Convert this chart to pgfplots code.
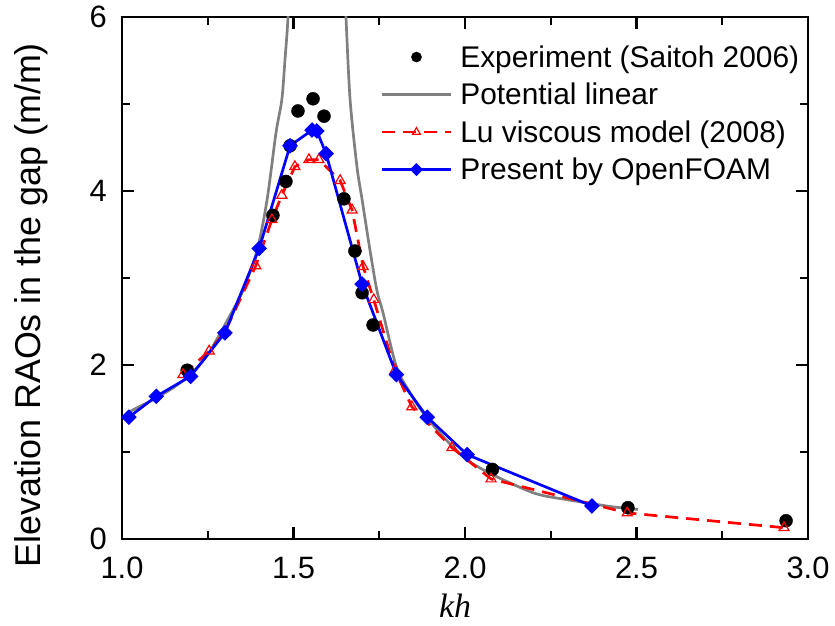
\documentclass[border=0pt]{standalone}
\usepackage{pgfplots}
\pgfplotsset{compat=1.18}
\usepackage{fontspec}
\setmainfont{Liberation Sans}
\newfontfamily\timesfont{Liberation Serif}
\definecolor{potgray}{RGB}{128,128,128}
\begin{document}
\begin{tikzpicture}
\begin{axis}[
  at={(122bp,87bp)}, anchor=south west,
  scale only axis, width=686bp, height=522bp,
  xmin=1, xmax=3, ymin=0, ymax=6,
  xtick={1,1.5,2,2.5,3}, ytick={0,2,4,6},
  minor x tick num=1, minor y tick num=1,
  tick align=inside,
  major tick length=12bp, minor tick length=8bp,
  tick style={black, line width=2.3bp},
  axis line style={line width=2.3bp},
  /pgf/number format/assume math mode=true,
  tick label style={font=\fontsize{31}{31}\selectfont, inner sep=0pt},
  xticklabel style={/pgf/number format/fixed, /pgf/number format/fixed zerofill, /pgf/number format/precision=1},
  xticklabel shift=18bp,
  yticklabel shift=15bp,
  xlabel={\timesfont\itshape kh},
  xlabel style={font=\fontsize{34}{34}\selectfont, at={(axis description cs:0.4854,0)}, anchor=base, yshift=-78bp},
  ylabel={Elevation RAOs in the gap (m/m)},
  ylabel style={font=\fontsize{36}{36}\selectfont, at={(axis description cs:-0.1195,0.448)}, anchor=base},
  legend style={draw=none, fill=none, at={(axis description cs:0.377,0.952)}, anchor=north west,
    inner sep=0pt, outer sep=0pt, column sep=8bp, row sep=7.5bp,
    font=\fontsize{30}{30}\selectfont,
    nodes={inner sep=0pt, text height=25bp, text depth=5bp}},
  legend cell align=left,
  legend image code/.code={\draw[mark repeat=2,mark phase=2,#1] plot coordinates {(0bp,0bp) (34.5bp,0bp) (69bp,0bp)};},
  legend image post style={every mark/.append style={scale=0.78}},
]
\addplot[only marks, mark=*, mark size=6.5bp, black] coordinates {
(1.19,1.94) (1.44,3.72) (1.478,4.11) (1.49,4.52) (1.513,4.92) (1.557,5.06)
(1.589,4.86) (1.647,3.91) (1.679,3.31) (1.70,2.83) (1.732,2.46) (2.08,0.80)
(2.475,0.36) (2.936,0.21)
};
\addlegendentry{Experiment (Saitoh 2006)}
\addplot[potgray, line width=2.7bp, smooth, tension=0.5, no markers] coordinates {
(1.015,1.45) (1.05,1.52) (1.09,1.60) (1.15,1.74) (1.198,1.89) (1.25,2.12)
(1.315,2.57) (1.353,2.86) (1.394,3.32) (1.423,3.90) (1.449,4.67) (1.466,5.05)
(1.475,5.5) (1.484,6.0) (1.495,7.0) (1.51,9) (1.53,12) (1.57,15) (1.61,12)
(1.635,8.5) (1.648,6.5) (1.653,6.0) (1.665,5.05) (1.685,4.28) (1.70,3.90)
(1.723,3.32) (1.743,2.86) (1.761,2.60) (1.80,1.98) (1.84,1.68) (1.878,1.45)
(1.94,1.16) (2.006,0.91) (2.08,0.74) (2.18,0.56) (2.227,0.50) (2.30,0.45)
(2.364,0.41) (2.43,0.37) (2.504,0.34)
};
\addlegendentry{Potential linear}
\addplot[red, line width=2.7bp, dash pattern=on 13bp off 8bp, mark=triangle, mark size=5.8bp,
  mark options={solid, fill=white, line width=1.2bp}] coordinates {
(1.178,1.89) (1.254,2.16) (1.30,2.38) (1.39,3.14) (1.437,3.67) (1.466,3.95)
(1.504,4.28) (1.545,4.36) (1.574,4.36) (1.636,4.12) (1.671,3.78) (1.703,3.13)
(1.734,2.75) (1.796,1.94) (1.845,1.52) (1.962,1.05) (2.076,0.69) (2.473,0.30)
(2.93,0.13)
};
\addlegendentry{Lu viscous model (2008)}
\addplot[blue, line width=2.7bp, mark=square*, mark size=4.2bp, mark options={rotate=45, solid}] coordinates {
(1.02,1.40) (1.10,1.64) (1.20,1.87) (1.30,2.37) (1.40,3.34) (1.49,4.52)
(1.554,4.70) (1.568,4.69) (1.595,4.43) (1.70,2.93) (1.80,1.89) (1.89,1.40)
(2.006,0.97) (2.37,0.38)
};
\addlegendentry{Present by OpenFOAM}
\end{axis}
\pgfresetboundingbox
\path[use as bounding box] (0,0) rectangle (835bp,626bp);
\end{tikzpicture}
\end{document}
